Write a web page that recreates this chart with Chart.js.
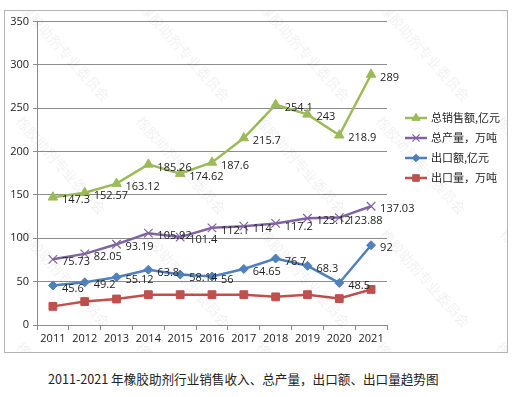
<!DOCTYPE html>
<html>
<head>
<meta charset="utf-8">
<script src="https://cdn.jsdelivr.net/npm/chart.js@4"></script>
<style>
  body { margin: 0; background: #fff; width: 518px; height: 397px; position: relative; overflow: hidden; }
  #box { position: absolute; left: 4px; top: 10px; width: 502px; height: 341px; border: 1px solid #b4b4b4; }
  #title { position: absolute; left: 48px; top: 369px; font: 12.6px "Noto Sans CJK SC", sans-serif; color: #222; white-space: nowrap; }
</style>
</head>
<body>
<div id="box"><canvas id="c" width="502" height="341"></canvas></div>
<div id="title">2011-2021 年橡胶助剂行业销售收入、总产量，出口额、出口量趋势图</div>
<script>
// data
const years = ['2011', '2012', '2013', '2014', '2015', '2016', '2017', '2018', '2019', '2020', '2021'];
const salesValue = [147.3, 152.57, 163.12, 185.26, 174.62, 187.6, 215.7, 254.1, 243, 218.9, 289];
const totalOutput = [75.73, 82.05, 93.19, 105.92, 101.4, 112.1, 114, 117.2, 123.12, 123.88, 137.03];
const exportValue = [45.6, 49.2, 55.12, 63.8, 58.14, 56, 64.65, 76.7, 68.3, 48.5, 92];
const exportVolume = [21.5, 27, 30, 35, 35, 35, 35, 32.5, 35, 30.5, 41];
const seriesNames = ['总销售额,亿元', '总产量，万吨', '出口额,亿元', '出口量，万吨'];
const yTicks = [0, 50, 100, 150, 200, 250, 300, 350];

const numFont = '11px "Open Sans", sans-serif';
const cjkFont = '11px "Noto Sans CJK SC", sans-serif';

// value labels to the right of points
const valueLabels = {
    id: 'valueLabels',
    afterDatasetsDraw(chart) {
        const ctx = chart.ctx;
        ctx.save();
        ctx.font = numFont;
        ctx.fillStyle = '#222';
        ctx.textBaseline = 'middle';
        chart.data.datasets.forEach((ds, i) => {
            if (!ds.showLabels) return;
            chart.getDatasetMeta(i).data.forEach((pt, j) => {
                ctx.fillText(String(ds.data[j]), pt.x + 9, pt.y + 3);
            });
        });
        ctx.restore();
    }
};

// legend drawn at the right side
const sideLegend = {
    id: 'sideLegend',
    afterDraw(chart) {
        const ctx = chart.ctx;
        const x0 = chart.chartArea.right + 18;
        ctx.save();
        chart.data.datasets.forEach((ds, i) => {
            const y = 107 + i * 20;
            ctx.strokeStyle = ds.borderColor;
            ctx.fillStyle = ds.borderColor;
            ctx.lineWidth = 2.5;
            ctx.beginPath();
            ctx.moveTo(x0, y);
            ctx.lineTo(x0 + 22, y);
            ctx.stroke();
            ctx.lineWidth = ds.pointBorderWidth;
            Chart.helpers.drawPoint(ctx, {
                pointStyle: ds.pointStyle,
                radius: ds.pointRadius * 0.85,
                borderWidth: ds.pointBorderWidth
            }, x0 + 11, y);
            ctx.font = cjkFont;
            ctx.fillStyle = '#222';
            ctx.textBaseline = 'middle';
            ctx.fillText(ds.label, x0 + 26, y);
        });
        ctx.restore();
    }
};

// faint diagonal watermark
const watermark = {
    id: 'watermark',
    afterDraw(chart) {
        const ctx = chart.ctx;
        ctx.save();
        ctx.font = '14px "Noto Sans CJK SC", sans-serif';
        ctx.fillStyle = 'rgba(0,0,0,0.06)';
        for (let r = 0; r < 4; r++) {
            for (let c = 0; c < 5; c++) {
                const x = 14 + c * 120 - (r % 2) * 4;
                const y = -2 + r * 113;
                ctx.save();
                ctx.translate(x, y);
                ctx.rotate(0.84);
                ctx.fillText('橡胶助剂专业委员会', 0, 0);
                ctx.restore();
            }
        }
        ctx.restore();
    }
};

function lineSet(label, data, color, style, radius, labels) {
    return {
        label: label,
        data: data,
        borderColor: color,
        backgroundColor: color,
        pointBackgroundColor: color,
        pointBorderColor: color,
        borderWidth: 2.5,
        pointStyle: style,
        pointRadius: radius,
        pointBorderWidth: style === 'crossRot' ? 1.2 : 1,
        tension: 0,
        showLabels: labels
    };
}

const ctx = document.getElementById('c').getContext('2d');
new Chart(ctx, {
    type: 'line',
    data: {
        labels: years,
        datasets: [
            lineSet(seriesNames[0], salesValue, '#9bbb59', 'triangle', 5.5, true),
            lineSet(seriesNames[1], totalOutput, '#8064a2', 'crossRot', 6, true),
            lineSet(seriesNames[2], exportValue, '#4f81bd', 'rectRot', 4.5, true),
            lineSet(seriesNames[3], exportVolume, '#c0504d', 'rect', 5.5, false)
        ]
    },
    options: {
        responsive: false,
        animation: false,
        layout: { padding: { top: 10, right: 120, left: 0, bottom: 0 } },
        plugins: {
            legend: { display: false },
            tooltip: { enabled: false }
        },
        scales: {
            x: {
                offset: true,
                grid: { offset: true, drawOnChartArea: false, tickLength: 5, color: '#8c8c8c' },
                border: { color: '#8c8c8c' },
                ticks: { font: { family: '"Open Sans", sans-serif', size: 11 }, color: '#222', padding: 2, maxRotation: 0 },
                afterFit(s) { s.height = 27; }
            },
            y: {
                min: 0,
                max: 350,
                afterBuildTicks(s) { s.ticks = yTicks.map(v => ({ value: v })); },
                grid: { color: '#8c8c8c', tickLength: 4 },
                border: { color: '#8c8c8c' },
                ticks: { font: { family: '"Open Sans", sans-serif', size: 11 }, color: '#222', padding: 4 },
                afterFit(s) { s.width = 32; }
            }
        }
    },
    plugins: [valueLabels, sideLegend, watermark]
});
</script>
</body>
</html>
